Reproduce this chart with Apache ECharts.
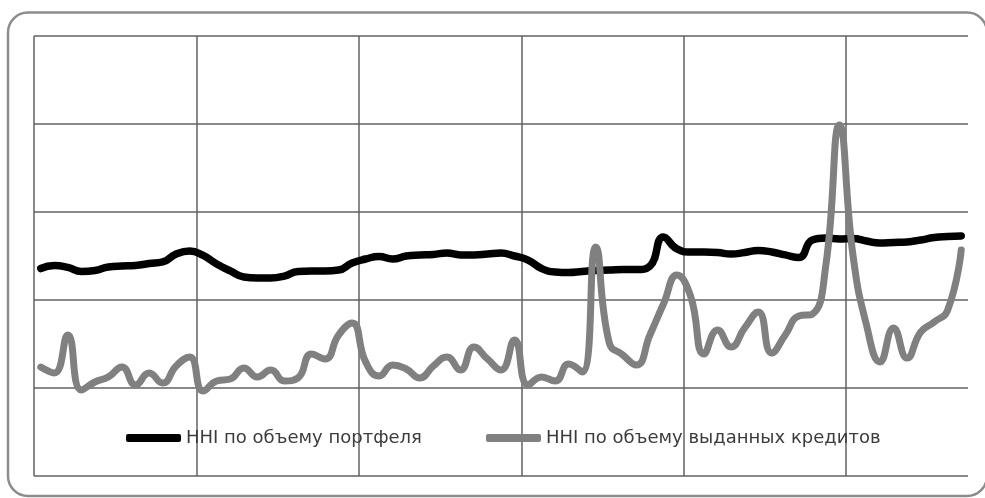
<!DOCTYPE html>
<html>
<head>
<meta charset="utf-8">
<title>HHI</title>
<script src="https://cdn.jsdelivr.net/npm/echarts@6/dist/echarts.min.js"></script>
<style>
  html, body { margin: 0; padding: 0; background: #fff; }
  #chart { width: 985px; height: 498px; }
</style>
</head>
<body>
<div id="chart"></div>
<script>
  // HHI по объему портфеля
  var portfolioHHI = [
    1179, 1196, 1185, 1162, 1168, 1188, 1193, 1196, 1207, 1216, 1261, 1278,
    1253, 1205, 1165, 1131, 1125, 1125, 1136, 1162, 1165, 1165, 1170, 1210,
    1233, 1247, 1233, 1250, 1256, 1259, 1267, 1256, 1256, 1261, 1267, 1250,
    1227, 1179, 1159, 1156, 1162, 1168, 1170, 1173, 1173, 1193, 1358, 1290,
    1273, 1273, 1270, 1261, 1270, 1281, 1273, 1256, 1241, 1341, 1352, 1347,
    1349, 1335, 1324, 1327, 1330, 1341, 1355, 1361, 1364
  ];
  // HHI по объему выданных кредитов
  var issuedHHI = [
    619, 585, 801, 489, 534, 563, 619, 517, 585, 528, 625, 676,
    483, 540, 551, 614, 563, 602, 540, 557, 693, 665, 801, 869,
    648, 568, 631, 608, 557, 625, 676, 602, 733, 665, 602, 773,
    517, 563, 540, 636, 591, 1301, 756, 688, 631, 801, 977, 1142,
    1023, 693, 830, 733, 841, 932, 699, 801, 909, 920, 1199, 1994,
    1256, 858, 648, 841, 670, 818, 875, 943, 1284
  ];
  // monthly periods, labels are not shown on the picture
  var categories = portfolioHHI.map(function (v, i) { return String(i + 1); });
  var seriesNames = ['HHI по объему портфеля', 'HHI по объему выданных кредитов'];

  var gridColor = '#626262';
  var legendText = { color: '#3c3c3c', fontSize: 18, fontFamily: 'DejaVu Sans' };

  var chart = echarts.init(document.getElementById('chart'), null, { renderer: 'canvas' });
  var option = {
    animation: false,
    backgroundColor: '#fff',
    grid: { left: 34, right: 17, top: 36, bottom: 22 },
    graphic: [{
      type: 'rect',
      z: -1,
      shape: { x: 8, y: 12.5, width: 979, height: 483.5, r: 20 },
      style: { fill: 'none', stroke: '#8c8c8c', lineWidth: 2.5 }
    }],
    legend: [{
      left: 126,
      top: 429,
      padding: 0,
      data: [seriesNames[0]],
      icon: 'roundRect',
      itemWidth: 55,
      itemHeight: 8,
      textStyle: legendText
    }, {
      left: 486,
      top: 429,
      padding: 0,
      data: [seriesNames[1]],
      icon: 'roundRect',
      itemWidth: 55,
      itemHeight: 8,
      textStyle: legendText
    }],
    xAxis: {
      type: 'category',
      data: categories,
      boundaryGap: true,
      axisLine: { show: false },
      axisTick: { show: false },
      axisLabel: { show: false },
      splitLine: {
        show: true,
        interval: 11,
        showMaxLine: false,
        lineStyle: { color: gridColor, width: 1.5 }
      }
    },
    yAxis: {
      type: 'value',
      min: 0,
      max: 2500,
      interval: 500,
      axisLine: { show: false },
      axisTick: { show: false },
      axisLabel: { show: false },
      splitLine: { lineStyle: { color: gridColor, width: 1.5 } }
    },
    series: [{
      name: seriesNames[0],
      type: 'line',
      data: portfolioHHI,
      smooth: true,
      showSymbol: false,
      itemStyle: { color: '#000' },
      lineStyle: { color: '#000', width: 7.5, cap: 'round', join: 'round' }
    }, {
      name: seriesNames[1],
      type: 'line',
      data: issuedHHI,
      smooth: true,
      showSymbol: false,
      itemStyle: { color: '#808080' },
      lineStyle: { color: '#808080', width: 7, cap: 'round', join: 'round' }
    }]
  };
  chart.setOption(option);
</script>
</body>
</html>
